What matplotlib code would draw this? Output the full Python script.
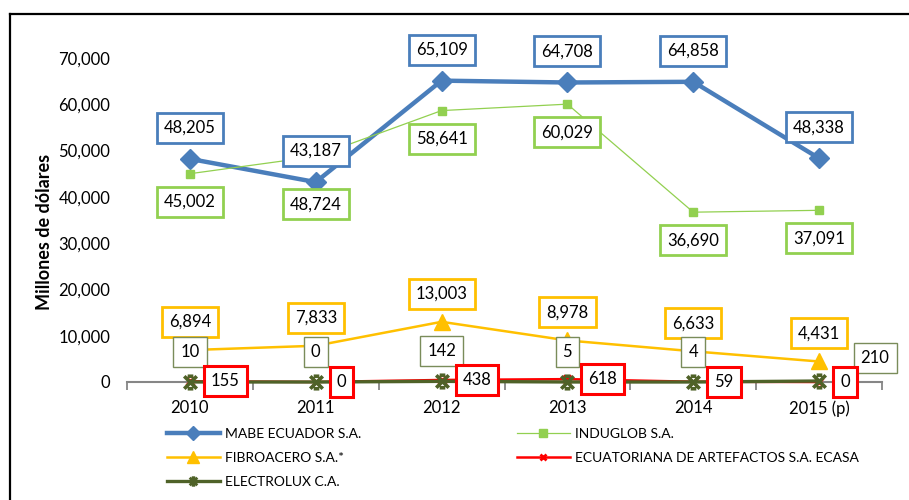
import matplotlib
matplotlib.use('Agg')
import matplotlib.pyplot as plt
from matplotlib.path import Path
from matplotlib.lines import Line2D
import numpy as np

plt.rcParams['font.family'] = ['Lato', 'DejaVu Sans']

years = ['2010', '2011', '2012', '2013', '2014', '2015 (p)']
mabe = [48205, 43187, 65109, 64708, 64858, 48338]
induglob = [45002, 48724, 58641, 60029, 36690, 37091]
fibroacero = [6894, 7833, 13003, 8978, 6633, 4431]
ecasa = [155, 0, 438, 618, 59, 0]
electrolux = [10, 0, 142, 5, 4, 210]
y_ticks = [0, 10000, 20000, 30000, 40000, 50000, 60000, 70000]
names = ['MABE ECUADOR S.A.', 'INDUGLOB S.A.', 'FIBROACERO S.A.*',
         'ECUATORIANA DE ARTEFACTOS S.A. ECASA', 'ELECTROLUX C.A.']

BLUE = '#4A7EBB'
GREEN = '#92D050'
ORANGE = '#FFC000'
RED = '#FF0000'
OLIVE = '#4F6228'
OLIVE_BOX = '#7A8C5A'

# custom "star" marker: X with short bars top and bottom
star = Path([(-1, -1), (1, 1), (-1, 1), (1, -1), (-0.45, 1), (0.45, 1), (-0.45, -1), (0.45, -1)],
            [Path.MOVETO, Path.LINETO, Path.MOVETO, Path.LINETO,
             Path.MOVETO, Path.LINETO, Path.MOVETO, Path.LINETO])

fig = plt.figure(figsize=(9.09, 5.0), dpi=100)
ax = fig.add_axes([127/909, 118/500, 755/909, 324/500])
x = np.arange(len(years))

styles = {
    'mabe': dict(color=BLUE, lw=3.2, marker='D', ms=10, mec=BLUE, mfc=BLUE),
    'induglob': dict(color=GREEN, lw=0.9, marker='s', ms=6, mec=GREEN, mfc=GREEN),
    'fibro': dict(color=ORANGE, lw=1.8, marker='^', ms=11, mec=ORANGE, mfc=ORANGE),
    'ecasa': dict(color=RED, lw=1.8, marker='x', ms=6, mec=RED, mew=2),
    'electrolux': dict(color=OLIVE, lw=2.4, marker=star, ms=9, mec=OLIVE, mew=2.6),
}
legend_ms = {'mabe': 7.5, 'induglob': 5.5, 'fibro': 8, 'ecasa': 5, 'electrolux': 5.5}

ax.plot(x, mabe, clip_on=False, zorder=3, **styles['mabe'])
ax.plot(x, induglob, clip_on=False, zorder=3, **styles['induglob'])
ax.plot(x, fibroacero, clip_on=False, zorder=3, **styles['fibro'])
ax.plot(x, ecasa, clip_on=False, zorder=3, **styles['ecasa'])
ax.plot(x, electrolux, clip_on=False, zorder=3, **styles['electrolux'])

ax.set_xlim(-0.5, len(years) - 0.5)
ax.set_ylim(0, 70000)
ax.set_yticks(y_ticks)
ax.set_yticklabels([f'{v:,}' for v in y_ticks])
ax.set_xticks(x)
ax.set_xticklabels(years)
ax.set_xticks(np.arange(-0.5, len(years), 1), minor=True)
ax.tick_params(axis='y', length=0, pad=12, labelsize=12)
ax.tick_params(axis='x', which='major', length=0, pad=13, labelsize=12)
ax.tick_params(axis='x', which='minor', length=6, width=1.3, color='#868686', direction='out')
for s in ['left', 'top', 'right']:
    ax.spines[s].set_visible(False)
ax.spines['bottom'].set_color('#868686')
ax.spines['bottom'].set_linewidth(1.5)
ax.patch.set_alpha(0)


def label(xi, yi, txt, dx, dy, ec, lw, ha='center', z=5):
    ax.annotate(txt, (xi, yi), xytext=(dx, dy), textcoords='offset pixels',
                ha=ha, va='center', fontsize=12, zorder=z, annotation_clip=False,
                bbox=dict(boxstyle='square,pad=0.42', fc='white', ec=ec, lw=lw))


for i, v in enumerate(mabe):
    label(i, v, f'{v:,}', 0, 31, BLUE, 2.0)
for i, v in enumerate(induglob):
    label(i, v, f'{v:,}', 0, -48 if i == 1 else -28, GREEN, 2.0)
for i, v in enumerate(fibroacero):
    label(i, v, f'{v:,}', 0, 28, ORANGE, 2.0)
for i, v in enumerate(electrolux):
    if i == len(electrolux) - 1:
        label(i, v, f'{v:,}', 56, 23, OLIVE_BOX, 1.0, z=6)
    else:
        label(i, v, f'{v:,}', 0, 30, OLIVE_BOX, 1.0, z=6)
for i, v in enumerate(ecasa):
    label(i, v, f'{v:,}', 21, 0, RED, 2.2, ha='left', z=7)

fig.text(45/909, 1 - 232/500, 'Millones de dólares', rotation=90, fontweight='bold',
         fontsize=13, ha='center', va='center')

def h(key, name):
    st = dict(styles[key])
    st['ms'] = legend_ms[key]
    if key == 'electrolux':
        st['mew'] = 2.0
    return Line2D([], [], label=name, **st)

leg_kw = dict(loc='upper left', frameon=False, fontsize=10, borderpad=0, borderaxespad=0,
              handlelength=3.8, handletextpad=0.4, labelspacing=0.87)
leg1 = fig.legend(handles=[h('mabe', names[0]), h('fibro', names[2]), h('electrolux', names[4])],
                  bbox_to_anchor=(167/909, 1 - 428/500), **leg_kw)
leg2 = fig.legend(handles=[h('induglob', names[1]), h('ecasa', names[3])],
                  bbox_to_anchor=(517/909, 1 - 428/500), **leg_kw)

fig.add_artist(Line2D([10/909, 10/909], [0, 1 - 14/500], transform=fig.transFigure, color='black', lw=1.6))
fig.add_artist(Line2D([10/909, 1], [1 - 14/500, 1 - 14/500], transform=fig.transFigure, color='black', lw=1.6))

fig.savefig('out.png', dpi=100)
